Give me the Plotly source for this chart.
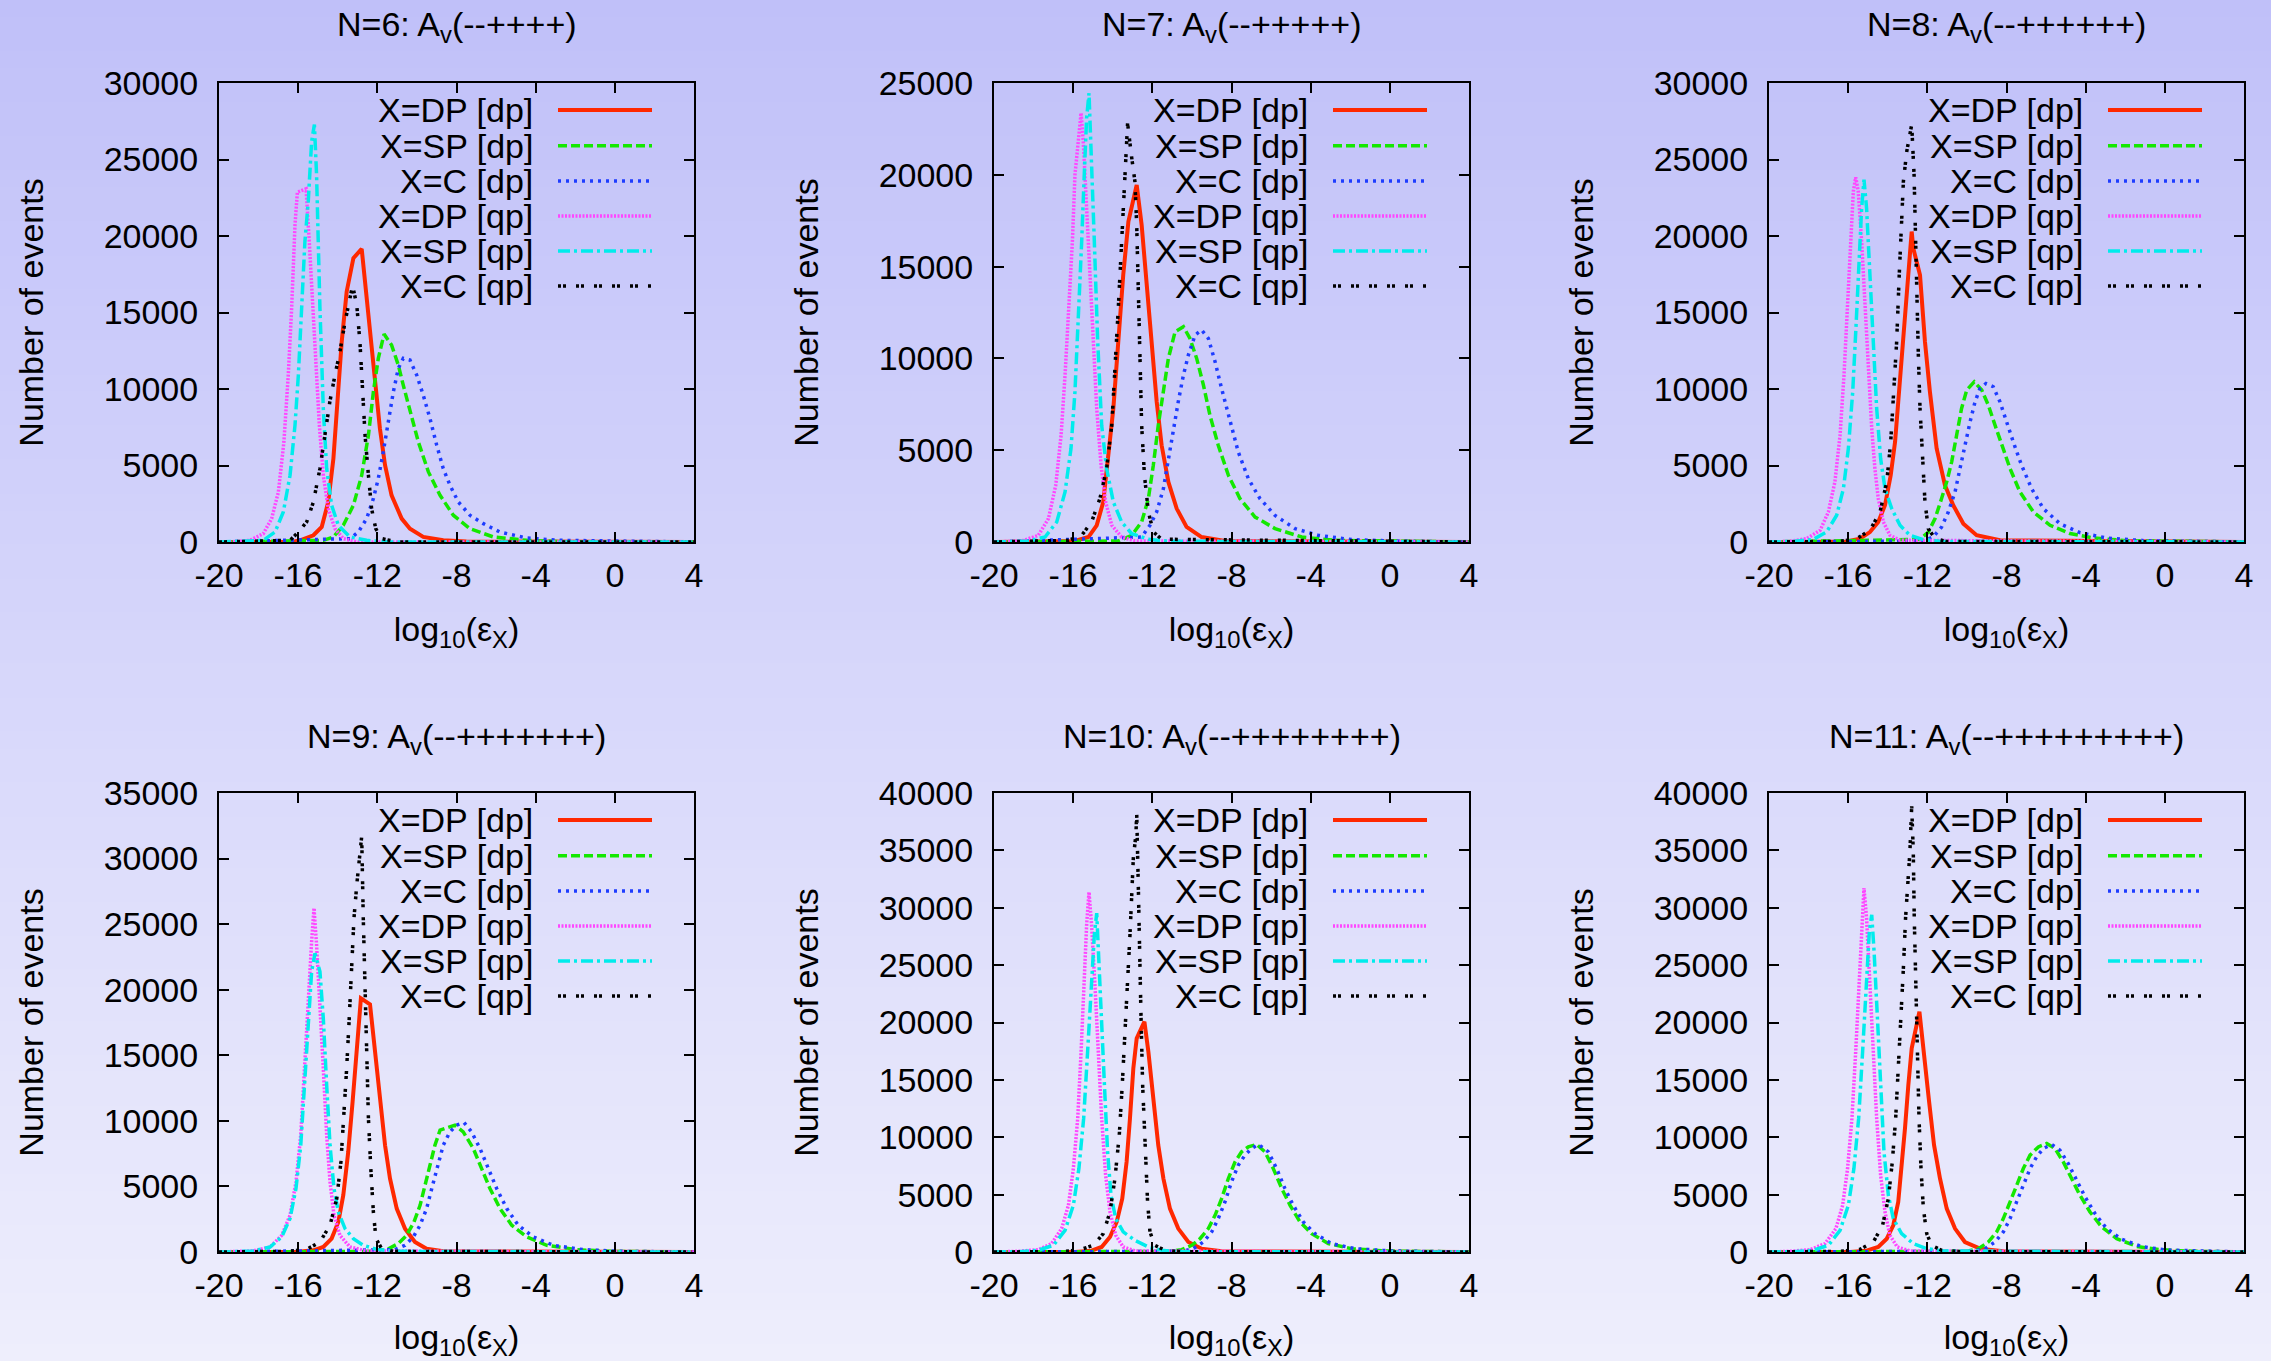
import plotly.graph_objects as go

# ---------------- data ----------------
X_TICKS = [-20, -16, -12, -8, -4, 0, 4]
X_TICK_LABELS = ["-20", "-16", "-12", "-8", "-4", "0", "4"]
SERIES_NAMES = ["X=DP [dp]", "X=SP [dp]", "X=C [dp]", "X=DP [qp]", "X=SP [qp]", "X=C [qp]"]
PANEL_N = [6, 7, 8, 9, 10, 11]
PANEL_SIGNS = ["--++++", "--+++++", "--++++++", "--+++++++", "--++++++++", "--+++++++++"]
PANEL_YMAX = [30000, 25000, 30000, 35000, 40000, 40000]

# N=6
n6_dpdp_x = [-20, -16.3, -15.9, -15.23, -14.81, -14.48, -14.22, -13.97, -13.8, -13.55, -13.21, -12.79, -12.4, -12.08, -11.87, -11.61, -11.28, -10.77, -10.35, -9.68, -8.67, -7.5, 4]
n6_dpdp_y = [0, 0, 110, 440, 980, 2620, 5450, 9820, 13090, 16360, 18550, 19160, 14400, 10470, 7420, 5020, 3050, 1530, 870, 330, 110, 30, 0]
n6_spdp_x = [-20, -14.73, -14.22, -13.72, -13.21, -12.79, -12.45, -12.2, -11.95, -11.66, -11.28, -10.94, -10.69, -10.35, -9.93, -9.42, -8.83, -8.16, -7.32, -6.14, -4.45, -2.5, 4]
n6_spdp_y = [0, 110, 330, 1090, 2400, 4360, 6980, 9820, 12000, 13590, 12870, 11560, 10250, 8510, 6550, 4580, 3050, 1750, 870, 330, 110, 20, 0]
n6_cdp_x = [-20, -13.38, -12.96, -12.54, -12.2, -11.95, -11.7, -11.44, -11.19, -10.94, -10.69, -10.35, -10.01, -9.68, -9.34, -9.0, -8.67, -8.33, -7.91, -7.32, -6.64, -5.8, -4.45, -2.77, 4]
n6_cdp_y = [0, 220, 650, 1530, 2840, 4150, 5890, 7850, 9820, 11350, 12000, 11890, 10910, 9600, 8070, 6330, 4800, 3710, 2620, 1750, 1200, 650, 260, 110, 0]
n6_dpqp_x = [-20, -19.44, -18.43, -17.76, -17.34, -17.0, -16.72, -16.5, -16.33, -16.16, -16.04, -15.6, -15.44, -15.27, -15.1, -14.93, -14.73, -14.48, -14.14, -13.72, -13.0, 4]
n6_dpqp_y = [0, 0, 110, 550, 1530, 3270, 6550, 10910, 15270, 20730, 22870, 23090, 19640, 15270, 11350, 7640, 4360, 2180, 870, 220, 0, 0]
n6_spqp_x = [-20, -17.76, -17.17, -16.75, -16.41, -16.16, -15.99, -15.82, -15.66, -15.49, -15.32, -15.18, -15.07, -14.9, -14.73, -14.56, -14.31, -13.97, -13.38, -12.54, -11.5, 4]
n6_spqp_y = [0, 110, 650, 1960, 4360, 7640, 10910, 15270, 19640, 22260, 26180, 27280, 24000, 15270, 8730, 4800, 2400, 1090, 330, 110, 0, 0]
n6_cqp_x = [-20, -16.41, -15.99, -15.57, -15.23, -14.9, -14.65, -14.4, -14.14, -13.89, -13.63, -13.38, -13.25, -13.04, -12.88, -12.74, -12.62, -12.45, -12.29, -12.08, -11.78, -11.0, 4]
n6_cqp_y = [0, 110, 650, 1310, 2620, 4800, 6980, 9160, 10910, 12440, 14400, 16150, 16760, 15490, 13090, 9820, 6980, 4360, 2180, 870, 220, 0, 0]

# N=7
n7_dpdp_x = [-20, -15.9, -15.23, -14.81, -14.48, -14.22, -13.97, -13.72, -13.47, -13.21, -12.79, -12.54, -12.29, -12.03, -11.78, -11.53, -11.19, -10.77, -10.27, -9.51, -8.33, 4]
n7_dpdp_y = [0, 55, 270, 910, 2180, 4550, 7270, 10910, 14550, 17450, 19450, 17270, 14180, 10910, 7640, 5270, 3270, 1820, 820, 270, 55, 0]
n7_spdp_x = [-20, -13.72, -13.04, -12.54, -12.2, -11.95, -11.7, -11.44, -11.19, -10.85, -10.43, -10.1, -9.76, -9.42, -9.09, -8.67, -8.16, -7.57, -6.81, -5.8, -4.45, -2.77, 4]
n7_spdp_y = [0, 55, 360, 1090, 2360, 4180, 6360, 8180, 10000, 11450, 11730, 11090, 10000, 8550, 6910, 5270, 3640, 2360, 1360, 730, 270, 90, 0]
n7_cdp_x = [-20, -12.54, -12.12, -11.78, -11.44, -11.19, -10.94, -10.69, -10.43, -10.18, -9.84, -9.51, -9.17, -8.83, -8.5, -8.08, -7.66, -7.15, -6.56, -5.8, -4.79, -3.61, -1.93, 0.6, 4]
n7_cdp_y = [0, 270, 910, 1640, 2910, 4550, 6180, 7640, 9090, 10180, 11270, 11550, 11090, 9820, 8360, 6550, 4910, 3450, 2360, 1450, 730, 360, 130, 40, 0]
n7_dpqp_x = [-20, -18.6, -17.76, -17.25, -16.88, -16.61, -16.41, -16.21, -16.04, -15.91, -15.74, -15.6, -15.49, -15.32, -15.15, -14.98, -14.81, -14.59, -14.36, -14.05, -13.55, -12.88, 4]
n7_dpqp_y = [0, 55, 360, 1270, 3090, 5820, 9090, 12730, 16360, 20000, 21820, 23360, 21820, 18180, 14550, 10910, 7270, 4180, 2180, 910, 270, 55, 0]
n7_spqp_x = [-20, -18.27, -17.42, -16.83, -16.41, -16.11, -15.91, -15.74, -15.57, -15.44, -15.32, -15.2, -15.1, -14.93, -14.76, -14.56, -14.31, -13.97, -13.55, -13.04, -12.2, -11.19, 4]
n7_spqp_y = [0, 55, 270, 1090, 2730, 5090, 8180, 11820, 16360, 20000, 23090, 24450, 21820, 16360, 10910, 6360, 4000, 2180, 1090, 450, 150, 40, 0]
n7_cqp_x = [-20, -16.24, -15.57, -15.07, -14.65, -14.31, -14.05, -13.89, -13.72, -13.55, -13.38, -13.25, -13.04, -12.88, -12.79, -12.71, -12.62, -12.54, -12.4, -12.2, -11.95, -11.53, 4]
n7_cqp_y = [0, 90, 360, 1090, 2360, 4000, 6360, 9090, 12730, 16360, 20000, 22800, 20910, 19640, 17270, 13640, 10000, 6360, 3640, 1640, 550, 150, 0]

# N=8
n8_dpdp_x = [-20, -16.08, -15.4, -14.9, -14.48, -14.14, -13.85, -13.63, -13.47, -13.3, -13.13, -12.96, -12.79, -12.71, -12.37, -12.12, -11.87, -11.53, -11.11, -10.69, -10.18, -9.51, -8.33, 4]
n8_dpdp_y = [0, 40, 220, 650, 1310, 2400, 4360, 6550, 9160, 12000, 15270, 17890, 20290, 19200, 17450, 13090, 9820, 6110, 3710, 2400, 1200, 440, 110, 0]
n8_spdp_x = [-20, -12.37, -11.95, -11.61, -11.28, -11.02, -10.77, -10.52, -10.27, -10.01, -9.63, -9.25, -8.92, -8.58, -8.25, -7.82, -7.32, -6.64, -5.8, -4.79, -3.61, -1.93, 4]
n8_spdp_y = [0, 170, 650, 1530, 2840, 3930, 5240, 6980, 8730, 9930, 10470, 9930, 8950, 7640, 6330, 4800, 3270, 1960, 1090, 550, 260, 90, 0]
n8_cdp_x = [-20, -12.2, -11.7, -11.28, -10.94, -10.6, -10.35, -10.1, -9.84, -9.59, -9.34, -9.04, -8.67, -8.33, -8.0, -7.66, -7.24, -6.73, -6.14, -5.3, -4.29, -2.94, -1.09, 4]
n8_cdp_y = [0, 65, 330, 980, 1960, 3270, 4800, 6330, 7850, 9160, 10040, 10360, 10150, 9160, 7850, 6550, 5020, 3490, 2180, 1200, 610, 260, 90, 0]
n8_dpqp_x = [-20, -18.94, -18.1, -17.42, -17.0, -16.67, -16.41, -16.21, -16.04, -15.87, -15.74, -15.62, -15.49, -15.32, -15.15, -14.98, -14.81, -14.65, -14.48, -14.22, -13.89, -13.38, 4]
n8_dpqp_y = [0, 40, 220, 760, 1960, 3930, 6980, 10910, 15270, 19640, 22910, 23830, 22910, 19640, 15270, 10910, 7420, 4800, 2840, 1310, 440, 110, 0]
n8_spqp_x = [-20, -18.77, -17.76, -17.09, -16.58, -16.24, -15.99, -15.77, -15.6, -15.44, -15.32, -15.2, -15.07, -14.9, -14.73, -14.56, -14.36, -14.14, -13.8, -13.38, -12.88, -12.2, -11.19, 4]
n8_spqp_y = [0, 40, 170, 650, 1750, 3490, 6110, 9820, 14180, 18550, 21820, 23680, 21820, 17450, 13090, 8730, 5450, 3490, 2180, 1090, 440, 150, 40, 0]
n8_cqp_x = [-20, -16.41, -15.57, -14.9, -14.39, -14.05, -13.85, -13.69, -13.55, -13.42, -13.3, -13.21, -13.04, -12.88, -12.79, -12.67, -12.62, -12.54, -12.45, -12.37, -12.25, -12.12, -11.95, -11.61, -11.02, 4]
n8_cqp_y = [0, 40, 220, 760, 1960, 3930, 6550, 9820, 13090, 17450, 20730, 23570, 25530, 26620, 27280, 24000, 20730, 16360, 12000, 8730, 5450, 2620, 870, 220, 40, 0]

# N=9
n9_dpdp_x = [-20, -16.08, -15.23, -14.73, -14.31, -13.97, -13.72, -13.47, -13.25, -13.04, -12.83, -12.37, -12.12, -11.87, -11.61, -11.36, -11.02, -10.6, -10.1, -9.51, -8.67, 4]
n9_dpdp_y = [0, 0, 130, 380, 1020, 2290, 4330, 7640, 11450, 15780, 19340, 18880, 15270, 11450, 8140, 5600, 3310, 1780, 760, 250, 50, 0]
n9_spdp_x = [-20, -12.03, -11.44, -10.94, -10.52, -10.15, -9.84, -9.59, -9.34, -9.09, -8.83, -8.08, -7.66, -7.15, -6.73, -6.31, -5.8, -5.21, -4.45, -3.44, -1.93, -0.24, 4]
n9_spdp_y = [0, 50, 250, 640, 1270, 2290, 3560, 5090, 6620, 8140, 9290, 9670, 9160, 7890, 6360, 4840, 3310, 2040, 1150, 510, 180, 50, 0]
n9_cdp_x = [-20, -11.11, -10.6, -10.18, -9.84, -9.51, -9.25, -9.0, -8.67, -8.33, -8.0, -7.62, -7.24, -6.81, -6.39, -5.97, -5.46, -4.88, -4.12, -3.11, -1.6, 0.26, 4]
n9_cdp_y = [0, 180, 510, 1150, 2040, 3310, 4840, 6360, 8140, 9160, 9670, 9870, 9160, 7890, 6360, 4840, 3310, 2040, 1150, 510, 180, 50, 0]
n9_dpqp_x = [-20, -18.27, -17.42, -16.83, -16.41, -16.11, -15.87, -15.66, -15.49, -15.32, -15.2, -15.07, -14.9, -14.73, -14.56, -14.39, -14.19, -13.89, -13.38, -12.54, 4]
n9_dpqp_y = [0, 80, 380, 1270, 2800, 5340, 8910, 14000, 19090, 23670, 26220, 23410, 19090, 14000, 8910, 5340, 2800, 1270, 380, 80, 0]
n9_spqp_x = [-20, -18.27, -17.42, -16.83, -16.41, -16.11, -15.87, -15.66, -15.49, -15.32, -15.15, -14.9, -14.73, -14.56, -14.39, -14.19, -13.97, -13.63, -13.21, -12.71, -12.03, -11.02, 4]
n9_spqp_y = [0, 80, 380, 1150, 2550, 4840, 8140, 12730, 17310, 21380, 22780, 21380, 17820, 12730, 8140, 4840, 3050, 1780, 1020, 510, 200, 50, 0]
n9_cqp_x = [-20, -16.58, -15.57, -14.9, -14.39, -14.05, -13.84, -13.69, -13.55, -13.42, -13.3, -13.18, -13.04, -12.88, -12.79, -12.71, -12.62, -12.54, -12.45, -12.33, -12.2, -12.07, -11.78, -11.19, 4]
n9_cqp_y = [0, 50, 200, 760, 2040, 4070, 6870, 10180, 14000, 17820, 21630, 25450, 28000, 30540, 31690, 25450, 20360, 15270, 10180, 6360, 3050, 1020, 250, 50, 0]

# N=10
n10_dpdp_x = [-20, -15.9, -15.07, -14.56, -14.14, -13.8, -13.52, -13.3, -13.13, -12.96, -12.79, -12.4, -12.2, -11.95, -11.7, -11.44, -11.11, -10.69, -10.18, -9.51, -8.5, 4]
n10_dpdp_y = [0, 0, 120, 440, 1310, 2620, 4650, 7850, 11640, 16000, 18620, 20070, 17450, 13090, 9310, 6400, 3780, 2040, 870, 290, 60, 0]
n10_spdp_x = [-20, -11.19, -10.52, -10.01, -9.59, -9.17, -8.83, -8.5, -8.16, -7.82, -7.49, -7.15, -6.73, -6.31, -5.89, -5.46, -5.04, -4.54, -3.95, -3.11, -1.93, -0.24, 4]
n10_spdp_y = [0, 60, 200, 580, 1160, 2040, 3200, 4650, 6400, 7850, 8730, 9160, 9370, 8730, 7270, 5530, 4070, 2620, 1600, 730, 290, 90, 0]
n10_cdp_x = [-20, -10.52, -9.93, -9.42, -9.0, -8.67, -8.33, -8.0, -7.66, -7.32, -6.98, -6.64, -6.14, -5.72, -5.3, -4.88, -4.37, -3.78, -2.94, -1.76, 0.09, 4]
n10_cdp_y = [0, 60, 290, 870, 1750, 2910, 4360, 6110, 7560, 8440, 9020, 9370, 8730, 7270, 5530, 4070, 2620, 1600, 730, 290, 90, 0]
n10_dpqp_x = [-20, -18.77, -17.76, -17.09, -16.58, -16.24, -15.99, -15.77, -15.6, -15.45, -15.32, -15.2, -15.07, -14.9, -14.73, -14.56, -14.36, -14.14, -13.85, -13.47, -12.88, 4]
n10_dpqp_y = [0, 60, 200, 730, 2040, 4070, 7270, 11640, 17450, 23270, 28510, 31360, 28510, 23270, 17450, 11640, 6690, 3490, 1450, 440, 90, 0]
n10_spqp_x = [-20, -18.77, -17.76, -17.0, -16.41, -15.99, -15.71, -15.47, -15.27, -15.1, -14.93, -14.81, -14.73, -14.59, -14.42, -14.26, -14.09, -13.85, -13.47, -12.88, -12.2, -11.53, -10.69, 4]
n10_spqp_y = [0, 30, 150, 580, 1890, 4070, 7270, 11640, 17450, 23270, 27640, 29530, 26180, 20360, 14550, 8730, 4950, 2910, 1750, 1020, 440, 150, 30, 0]
n10_cqp_x = [-20, -16.75, -15.74, -14.98, -14.48, -14.14, -13.89, -13.67, -13.52, -13.38, -13.25, -13.13, -13.04, -12.96, -12.83, -12.79, -12.71, -12.66, -12.57, -12.49, -12.37, -12.24, -12.12, -11.87, -11.36, -10.52, 4]
n10_cqp_y = [0, 30, 150, 580, 1600, 3490, 6400, 10180, 14550, 18910, 23270, 27640, 31130, 34330, 36360, 38250, 32000, 26180, 20360, 14550, 8730, 4360, 1750, 580, 150, 30, 0]

# N=11
n11_dpdp_x = [-20, -15.9, -15.07, -14.48, -14.05, -13.72, -13.47, -13.3, -13.13, -12.96, -12.79, -12.4, -12.16, -11.91, -11.66, -11.36, -11.02, -10.6, -10.1, -9.34, -8.16, 4]
n11_dpdp_y = [0, 0, 120, 440, 1160, 2330, 4360, 7270, 10760, 14550, 17750, 20950, 17450, 13090, 9310, 6400, 3780, 2040, 870, 290, 60, 0]
n11_spdp_x = [-20, -10.01, -9.42, -8.92, -8.5, -8.16, -7.82, -7.49, -7.15, -6.81, -6.39, -5.97, -5.55, -5.13, -4.71, -4.29, -3.78, -3.19, -2.43, -1.42, -0.24, 1.44, 4]
n11_spdp_y = [0, 60, 290, 870, 1750, 2910, 4360, 5820, 7270, 8440, 9160, 9450, 9020, 7850, 6400, 4950, 3490, 2180, 1160, 490, 200, 60, 0]
n11_cdp_x = [-20, -9.68, -9.09, -8.58, -8.16, -7.82, -7.49, -7.15, -6.81, -6.48, -6.14, -5.72, -5.3, -4.88, -4.45, -4.03, -3.53, -2.94, -2.18, -1.17, 0.09, 1.94, 4]
n11_cdp_y = [0, 60, 290, 870, 1750, 2910, 4360, 5820, 7270, 8290, 9020, 9370, 8870, 7710, 6250, 4800, 3350, 2040, 1110, 470, 170, 60, 0]
n11_dpqp_x = [-20, -18.94, -17.93, -17.17, -16.62, -16.28, -16.03, -15.81, -15.62, -15.45, -15.32, -15.2, -15.07, -14.9, -14.73, -14.56, -14.36, -14.14, -13.89, -13.52, -12.88, 4]
n11_dpqp_y = [0, 60, 200, 730, 2040, 4070, 7270, 11640, 17450, 23270, 29090, 31710, 29090, 23270, 17450, 11640, 6690, 3490, 1450, 440, 90, 0]
n11_spqp_x = [-20, -18.77, -17.76, -17.0, -16.41, -15.99, -15.71, -15.47, -15.27, -15.1, -14.93, -14.81, -14.69, -14.52, -14.36, -14.19, -13.97, -13.72, -13.3, -12.71, -12.03, -11.19, 4]
n11_spqp_y = [0, 30, 150, 580, 1890, 4070, 7270, 11640, 17450, 23270, 27930, 29380, 26180, 20360, 14550, 8730, 4950, 2910, 1600, 730, 290, 90, 0]
n11_cqp_x = [-20, -16.41, -15.4, -14.73, -14.26, -13.97, -13.77, -13.6, -13.47, -13.33, -13.21, -13.1, -13.0, -12.88, -12.79, -12.71, -12.66, -12.59, -12.5, -12.42, -12.32, -12.2, -12.03, -11.78, -11.28, -10.35, 4]
n11_cqp_y = [0, 60, 230, 870, 2330, 4650, 7850, 11640, 16000, 20360, 24730, 29090, 32000, 34910, 38840, 34910, 29090, 23270, 17450, 11640, 7270, 3780, 1600, 580, 150, 30, 0]

PANEL_DATA = [
    [(n6_dpdp_x, n6_dpdp_y), (n6_spdp_x, n6_spdp_y), (n6_cdp_x, n6_cdp_y), (n6_dpqp_x, n6_dpqp_y), (n6_spqp_x, n6_spqp_y), (n6_cqp_x, n6_cqp_y)],
    [(n7_dpdp_x, n7_dpdp_y), (n7_spdp_x, n7_spdp_y), (n7_cdp_x, n7_cdp_y), (n7_dpqp_x, n7_dpqp_y), (n7_spqp_x, n7_spqp_y), (n7_cqp_x, n7_cqp_y)],
    [(n8_dpdp_x, n8_dpdp_y), (n8_spdp_x, n8_spdp_y), (n8_cdp_x, n8_cdp_y), (n8_dpqp_x, n8_dpqp_y), (n8_spqp_x, n8_spqp_y), (n8_cqp_x, n8_cqp_y)],
    [(n9_dpdp_x, n9_dpdp_y), (n9_spdp_x, n9_spdp_y), (n9_cdp_x, n9_cdp_y), (n9_dpqp_x, n9_dpqp_y), (n9_spqp_x, n9_spqp_y), (n9_cqp_x, n9_cqp_y)],
    [(n10_dpdp_x, n10_dpdp_y), (n10_spdp_x, n10_spdp_y), (n10_cdp_x, n10_cdp_y), (n10_dpqp_x, n10_dpqp_y), (n10_spqp_x, n10_spqp_y), (n10_cqp_x, n10_cqp_y)],
    [(n11_dpdp_x, n11_dpdp_y), (n11_spdp_x, n11_spdp_y), (n11_cdp_x, n11_cdp_y), (n11_dpqp_x, n11_dpqp_y), (n11_spqp_x, n11_spqp_y), (n11_cqp_x, n11_cqp_y)],
]

# ---------------- styles ----------------
W, H = 2271, 1361
COL_LEFT = [219, 994, 1769]
ROW_TOP = [83, 793]
PW, PH = 475, 459
FONT = "Liberation Sans, Arial, Helvetica, sans-serif"
FS = 34

STYLES = [
    dict(color="rgb(255,40,0)", dash="solid", width=4),
    dict(color="rgb(20,232,0)", dash="9px,4px", width=3.5),
    dict(color="rgb(30,60,255)", dash="3px,5px", width=3.5),
    dict(color="rgb(255,70,255)", dash="2px,1.5px", width=3.5),
    dict(color="rgb(0,236,236)", dash="12px,4px,3px,4px", width=3.5),
    dict(color="rgb(0,0,0)", dash="3px,2px,3px,10px", width=3.5),
]

fig = go.Figure()
layout = dict(
    width=W, height=H, autosize=False,
    margin=dict(l=0, r=0, t=0, b=0, pad=0, autoexpand=False),
    paper_bgcolor="rgb(194,194,249)",
    plot_bgcolor="rgba(0,0,0,0)",
    showlegend=False,
    font=dict(family=FONT, size=FS, color="black"),
)
shapes = []
annotations = []

# vertical gradient background (styling only)
NB = 80
top_c = (192, 192, 249)
bot_c = (238, 238, 252)
for i in range(NB):
    t = (i + 0.5) / NB
    c = tuple(round(top_c[k] + (bot_c[k] - top_c[k]) * t) for k in range(3))
    shapes.append(dict(type="rect", xref="paper", yref="paper",
                       x0=0, x1=1, y0=1 - (i + 1) / NB - 0.001, y1=1 - i / NB,
                       fillcolor="rgb(%d,%d,%d)" % c, line=dict(width=0), layer="below"))

LEG_TEXT_X = 316 / PW
LEG_S0, LEG_S1 = 339 / PW, 433 / PW
LEG_ROWS = [27, 62.7, 98, 133, 168, 203]

for p in range(6):
    r, c = divmod(p, 3)
    idx = "" if p == 0 else str(p + 1)
    xa, ya = "x" + idx, "y" + idx
    x0 = COL_LEFT[c] / W
    x1 = (COL_LEFT[c] + PW) / W
    y1 = 1 - ROW_TOP[r] / H
    y0 = 1 - (ROW_TOP[r] + PH) / H
    axis_common = dict(showline=True, linecolor="black", linewidth=2, mirror="ticks",
                       ticks="inside", ticklen=10, tickwidth=2, tickcolor="black",
                       showgrid=False, zeroline=False, automargin=False,
                       tickfont=dict(family=FONT, size=FS, color="black"))
    layout["xaxis" + idx] = dict(axis_common, domain=[x0, x1], anchor=ya, range=[-20, 4],
                                 tickmode="array", tickvals=X_TICKS, ticktext=X_TICK_LABELS,
                                 ticklabelstandoff=2,
                                 title=dict(text="log<sub>10</sub>(ε<sub>X</sub>)", standoff=24,
                                            font=dict(family=FONT, size=FS, color="black")))
    layout["yaxis" + idx] = dict(axis_common, domain=[y0, y1], anchor=xa, range=[0, PANEL_YMAX[p]],
                                 dtick=5000, tick0=0, tickformat="d",
                                 ticklabelstandoff=12,
                                 title=dict(text="Number of events", standoff=50,
                                            font=dict(family=FONT, size=FS, color="black")))
    for s in range(6):
        xs, ys = PANEL_DATA[p][s]
        st = STYLES[s]
        fig.add_trace(go.Scatter(x=xs, y=ys, mode="lines", name=SERIES_NAMES[s],
                                 xaxis=xa, yaxis=ya, showlegend=False,
                                 line=dict(color=st["color"], dash=st["dash"], width=st["width"])))
        ly = 1 - LEG_ROWS[s] / PH
        annotations.append(dict(text=SERIES_NAMES[s], xref=xa + " domain", yref=ya + " domain",
                                x=LEG_TEXT_X, y=ly, xanchor="right", yanchor="middle",
                                showarrow=False, font=dict(family=FONT, size=FS, color="black")))
        shapes.append(dict(type="line", xref=xa + " domain", yref=ya + " domain",
                           x0=LEG_S0, x1=LEG_S1, y0=ly, y1=ly,
                           line=dict(color=st["color"], dash=st["dash"], width=st["width"])))
    # panel title
    ty = 26 if r == 0 else 739
    annotations.append(dict(text="N=%d: A<sub>v</sub>(%s)" % (PANEL_N[p], PANEL_SIGNS[p]),
                            xref="paper", yref="paper", x=(x0 + x1) / 2, y=1 - ty / H,
                            xanchor="center", yanchor="middle", showarrow=False,
                            font=dict(family=FONT, size=FS, color="black")))

layout["shapes"] = shapes
layout["annotations"] = annotations
fig.update_layout(**layout)
fig.write_html("out.html")
